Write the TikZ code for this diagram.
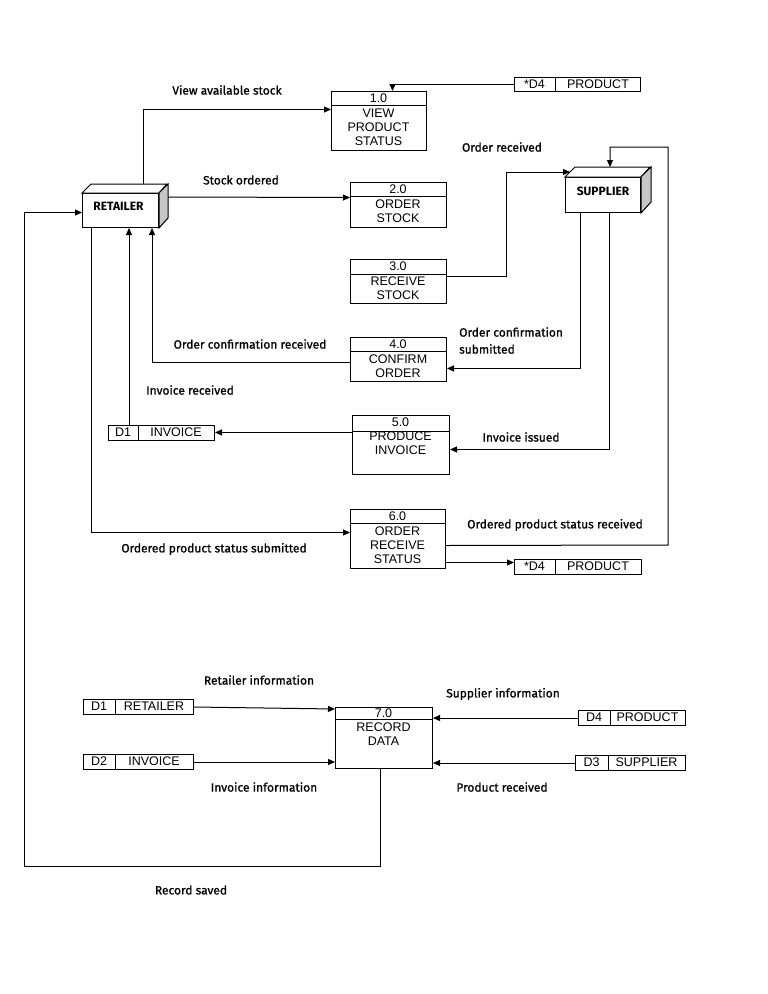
\documentclass[tikz,border=0pt]{standalone}
\usepackage{fontspec}
\setmainfont{Liberation Sans}
\newfontfamily\lab[FakeBold=0.9]{Fira Sans}
\newfontfamily\entf{Fira Sans Bold}
\usetikzlibrary{arrows.meta,calc}
\begin{document}
\begin{tikzpicture}[x=1pt,y=-1pt,
  ln/.style={line width=1pt},
  arr/.style={ln,-{Triangle[length=7pt,width=6pt]}},
  box/.style={draw,line width=1pt,inner sep=0,anchor=north west},
  lbl/.style={font=\lab\fontsize{12}{17}\selectfont,inner sep=0},
  ptxt/.style={font=\fontsize{12.5}{14}\selectfont,align=center,inner sep=0},
  stxt/.style={font=\fontsize{12.5}{14}\selectfont,inner sep=0},
  ent/.style={font=\entf\fontsize{12}{13}\selectfont,inner sep=0},
  side/.style={draw,line width=1pt,fill=gray!45},
  topf/.style={draw,line width=1pt,fill=white}]
\useasboundingbox (0,0) rectangle (768,994);
\fill[white] (0,0) rectangle (768,994);

% ---------- external entities ----------
\node[box,minimum width=76pt,minimum height=34pt] (ret) at (82,193) {};
\draw[topf] (ret.north west) -- ++(9,-9) -- ++(76,0) -- (ret.north east) -- cycle;
\draw[side] (ret.north east) -- ++(9,-9) -- ++(0,34) -- (ret.south east) -- cycle;
\node[ent] (retT) at ([xshift=-2pt,yshift=4pt]ret.center) {RETAILER};

\node[box,minimum width=75pt,minimum height=35pt] (sup) at (565,177) {};
\draw[topf] (sup.north west) -- ++(10,-10) -- ++(75,0) -- (sup.north east) -- cycle;
\draw[side] (sup.north east) -- ++(10,-10) -- ++(0,35) -- (sup.south east) -- cycle;
\node[ent] (supT) at ([yshift=4pt]sup.center) {SUPPLIER};

% ---------- processes ----------
\node[box,minimum width=95pt,minimum height=59pt] (p1) at (331,91) {};
\draw[ln] ([yshift=-14pt]p1.north west) -- ([yshift=-14pt]p1.north east);
\node[ptxt] (p1n) at (378.5,98) {1.0};
\node[ptxt] (p1t) at (378.5,127) {VIEW\\PRODUCT\\STATUS};

\node[box,minimum width=96pt,minimum height=45pt] (p2) at (350,182) {};
\draw[ln] ([yshift=-14pt]p2.north west) -- ([yshift=-14pt]p2.north east);
\node[ptxt] (p2n) at (398,189) {2.0};
\node[ptxt] (p2t) at (398,211) {ORDER\\STOCK};

\node[box,minimum width=96pt,minimum height=44pt] (p3) at (350,259) {};
\draw[ln] ([yshift=-15pt]p3.north west) -- ([yshift=-15pt]p3.north east);
\node[ptxt] (p3n) at (398,266.5) {3.0};
\node[ptxt] (p3t) at (398,288) {RECEIVE\\STOCK};

\node[box,minimum width=96pt,minimum height=44pt] (p4) at (350,337) {};
\draw[ln] ([yshift=-14pt]p4.north west) -- ([yshift=-14pt]p4.north east);
\node[ptxt] (p4n) at (398,344) {4.0};
\node[ptxt] (p4t) at (398,366) {CONFIRM\\ORDER};

\node[box,minimum width=97pt,minimum height=59pt] (p5) at (352,415) {};
\draw[ln] ([yshift=-16pt]p5.north west) -- ([yshift=-16pt]p5.north east);
\node[ptxt] (p5n) at (400.5,422.5) {5.0};
\node[ptxt] (p5t) at (400.5,443.5) {PRODUCE\\INVOICE};

\node[box,minimum width=95pt,minimum height=59pt] (p6) at (350,509) {};
\draw[ln] ([yshift=-14pt]p6.north west) -- ([yshift=-14pt]p6.north east);
\node[ptxt] (p6n) at (397.5,516) {6.0};
\node[ptxt] (p6t) at (397.5,545) {ORDER\\RECEIVE\\STATUS};

\node[box,minimum width=97pt,minimum height=61pt] (p7) at (335,707) {};
\draw[ln] ([yshift=-12pt]p7.north west) -- ([yshift=-12pt]p7.north east);
\node[ptxt] (p7n) at (383.5,713) {7.0};
\node[ptxt] (p7t) at (383.5,734.5) {RECORD\\DATA};

% ---------- data stores ----------
\node[box,minimum width=126pt,minimum height=14pt] (s1) at (514,77) {};
\draw[ln] ([xshift=41pt]s1.north west) -- ([xshift=41pt]s1.south west);
\node[stxt] (s1a) at (534.5,84) {*D4};
\node[stxt] (s1b) at (598,84) {PRODUCT};

\node[box,minimum width=106pt,minimum height=15pt] (s2) at (108,425) {};
\draw[ln] ([xshift=30pt]s2.north west) -- ([xshift=30pt]s2.south west);
\node[stxt] (s2a) at (123,432.5) {D1};
\node[stxt] (s2b) at (176,432.5) {INVOICE};

\node[box,minimum width=127pt,minimum height=15pt] (s3) at (514,559) {};
\draw[ln] ([xshift=41pt]s3.north west) -- ([xshift=41pt]s3.south west);
\node[stxt] (s3a) at (534.5,566.5) {*D4};
\node[stxt] (s3b) at (598,566.5) {PRODUCT};

\node[box,minimum width=110pt,minimum height=15pt] (s4) at (83,699) {};
\draw[ln] ([xshift=32pt]s4.north west) -- ([xshift=32pt]s4.south west);
\node[stxt] (s4a) at (99,706.5) {D1};
\node[stxt] (s4b) at (154,706.5) {RETAILER};

\node[box,minimum width=110pt,minimum height=15pt] (s5) at (83,754) {};
\draw[ln] ([xshift=32pt]s5.north west) -- ([xshift=32pt]s5.south west);
\node[stxt] (s5a) at (99,761.5) {D2};
\node[stxt] (s5b) at (154,761.5) {INVOICE};

\node[box,minimum width=107pt,minimum height=15pt] (s6) at (578,710) {};
\draw[ln] ([xshift=32pt]s6.north west) -- ([xshift=32pt]s6.south west);
\node[stxt] (s6a) at (594,717.5) {D4};
\node[stxt] (s6b) at (647.5,717.5) {PRODUCT};

\node[box,minimum width=110pt,minimum height=15pt] (s7) at (575,755) {};
\draw[ln] ([xshift=33pt]s7.north west) -- ([xshift=33pt]s7.south west);
\node[stxt] (s7a) at (591.5,762.5) {D3};
\node[stxt] (s7b) at (646.5,762.5) {SUPPLIER};

% ---------- connectors ----------
\coordinate (retTop) at ($(ret.north west)+(61,-9)$);
\draw[arr] (retTop) |- ([yshift=11.5pt]p1.west);
\draw[arr] (s1.west) -| ([xshift=13.5pt]p1.north);
\draw[arr] ($(ret.north east)+(9,4)$) -- ([yshift=7.5pt]p2.west);
\draw[arr] ([yshift=5pt]p3.east) -| (506,172) -- ($(sup.north west)+(5,-5)$);
\draw[arr] ([yshift=-6.5pt]p6.east) -- (668,545) -- (668,147) -- (610,147) -- ($(sup.north west)+(45,-10)$);
\draw[arr] ($(sup.south west)+(15,0)$) |- ([yshift=-9pt]p4.east);
\draw[arr] ($(sup.south west)+(44,0)$) |- ([yshift=-4.5pt]p5.east);
\draw[arr] ([yshift=-3pt]p4.west) -| ($(ret.south west)+(70,0)$);
\draw[arr] ($(s2.north west)+(21,0)$) -- ($(ret.south west)+(47,0)$);
\draw[arr] ([yshift=12.5pt]p5.west) -- ([yshift=12.5pt]p5.west -| s2.east);
\draw[arr] ($(ret.south west)+(9,0)$) |- ([yshift=6.5pt]p6.west);
\draw[arr] ([yshift=-23.5pt]p6.east) -- ([yshift=-23.5pt]p6.east -| s3.west);
\draw[arr] (s4.east) -- ($(p7.north west)+(0,2)$);
\draw[arr] (s5.east) -- (s5.east -| p7.west);
\draw[arr] (s6.west) -- (s6.west -| p7.east);
\draw[arr] (s7.west) -- (s7.west -| p7.east);
\draw[arr] ($(p7.south west)+(45,0)$) |- (24,866) |- ([yshift=-2pt]ret.west);

% ---------- labels ----------
\node[lbl] (l1) at (227,90) {View available stock};
\node[lbl] (l2) at (241,180) {Stock ordered};
\node[lbl] (l3) at (502,147) {Order received};
\node[lbl,align=left,anchor=west] (l4) at (459,340.5) {Order confirmation\\submitted};
\node[lbl] (l5) at (250,344) {Order confirmation received};
\node[lbl] (l6) at (190,390) {Invoice received};
\node[lbl] (l7) at (521,437) {Invoice issued};
\node[lbl] (l8) at (555,525) {Ordered product status received};
\node[lbl] (l9) at (214,549) {Ordered product status submitted};
\node[lbl] (l10) at (259,680) {Retailer information};
\node[lbl] (l11) at (503,694) {Supplier information};
\node[lbl] (l12) at (264,787) {Invoice information};
\node[lbl] (l13) at (502,787) {Product received};
\node[lbl] (l14) at (191,890) {Record saved};
\end{tikzpicture}
\end{document}
